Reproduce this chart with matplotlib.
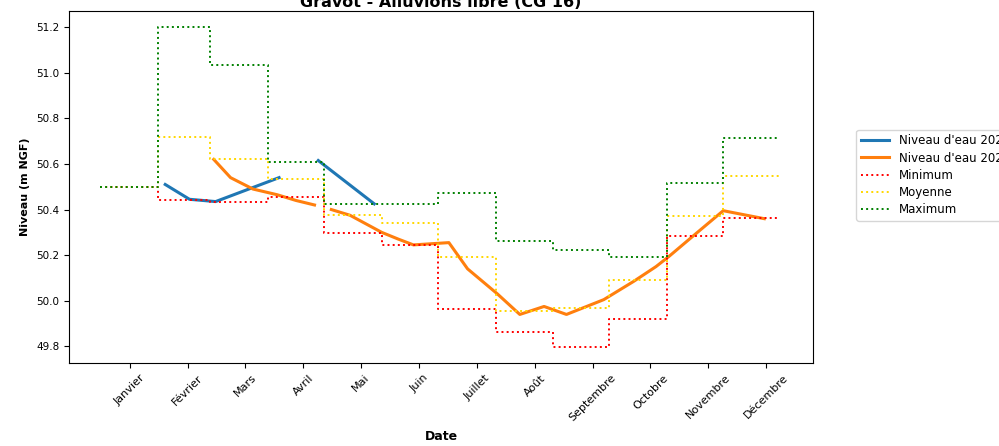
"""
Niveaux piézométriques mensuels - Gravot, alluvions libre.
"""

import numpy as np
import matplotlib
matplotlib.use("Agg")
import matplotlib.pyplot as plt

MONTHS = ["Janvier", "Février", "Mars", "Avril", "Mai", "Juin", "Juillet",
          "Août", "Septembre", "Octobre", "Novembre", "Décembre"]

# day of year (0 = 1er janvier) where each month starts, plus the last day
MONTH_STARTS = [0, 31, 59, 90, 120, 151, 181, 212, 243, 273, 304, 334, 364]
TICK_DAYS = [16, 47, 78, 109, 140, 171, 202, 233, 264, 295, 326, 357]

# monthly statistics (m NGF)
minimum = [50.50, 50.44, 50.435, 50.455, 50.295, 50.245, 49.965, 49.865,
           49.797, 49.918, 50.283, 50.363]
moyenne = [50.50, 50.717, 50.621, 50.534, 50.377, 50.341, 50.19, 49.955,
           49.97, 50.093, 50.37, 50.545]
maximum = [50.50, 51.20, 51.033, 50.61, 50.424, 50.424, 50.472, 50.264,
           50.224, 50.194, 50.515, 50.713]

# water level records (day of year, level); nan = missing measurement
days_a = [35, 48, 62, 96, np.nan, 117, 147]
level_a = [50.51, 50.445, 50.435, 50.54, np.nan, 50.615, 50.425]

days_b = [61, 70, 82, 95, 105, 115, np.nan, 124, 134, 151, 160, 168, 187,
          197, 213, 225, 238, 250, 270, 286, 298, 305, 318, 334, 356]
level_b = [50.62, 50.54, 50.49, 50.465, 50.44, 50.42, np.nan, 50.40, 50.375,
           50.30, 50.27, 50.245, 50.255, 50.14, 50.03, 49.94, 49.975, 49.94,
           50.005, 50.085, 50.15, 50.195, 50.285, 50.395, 50.36]


def steps(values):
    return values + [values[-1]]


fig = plt.figure(figsize=(9.99, 4.46), dpi=100)
ax = fig.add_axes([0.069, 0.186, 0.745, 0.789])

ax.plot(days_a, level_a, color="tab:blue", lw=2.2, label="Niveau d'eau 2025")
ax.plot(days_b, level_b, color="tab:orange", lw=2.2, label="Niveau d'eau 2024")
ax.plot(MONTH_STARTS, steps(minimum), ":", color="red", lw=1.4,
        drawstyle="steps-post", label="Minimum")
ax.plot(MONTH_STARTS, steps(moyenne), ":", color="gold", lw=1.4,
        drawstyle="steps-post", label="Moyenne")
ax.plot(MONTH_STARTS, steps(maximum), ":", color="green", lw=1.4,
        drawstyle="steps-post", label="Maximum")

ax.set_xlim(-16.6, 382.2)
ax.set_xticks(TICK_DAYS)
ax.set_xticklabels(MONTHS, rotation=45, fontsize=8)
ax.tick_params(axis="y", labelsize=7.5)

ax.set_xlabel("Date", fontsize=9, fontweight="bold", labelpad=5)
ax.set_ylabel("Niveau (m NGF)", fontsize=8, fontweight="bold")
ax.set_title("Gravot - Alluvions libre (CG 16)", fontsize=11.5,
             fontweight="bold", pad=3)

ax.legend(loc="center left", bbox_to_anchor=(1.05, 0.534), fontsize=8.5,
          handlelength=2.4, labelspacing=0.35)

fig.savefig("out.png", dpi=100)
